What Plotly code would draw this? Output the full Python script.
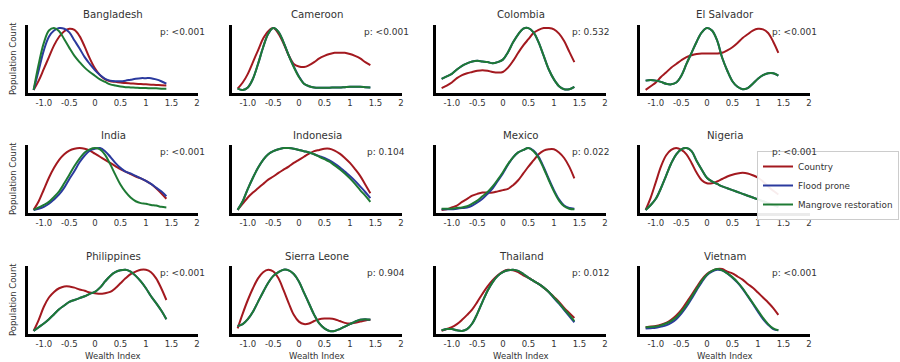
import plotly.graph_objects as go

W, H = 900, 362

X_GRID = [-1.2, -1.1, -1.0, -0.9, -0.8, -0.7, -0.6, -0.5, -0.4, -0.3, -0.2, -0.1, 0.0,
          0.1, 0.2, 0.3, 0.4, 0.5, 0.6, 0.7, 0.8, 0.9, 1.0, 1.1, 1.2, 1.3, 1.4]

COUNTRIES = ["Bangladesh", "Cameroon", "Colombia", "El Salvador",
             "India", "Indonesia", "Mexico", "Nigeria",
             "Philippines", "Sierra Leone", "Thailand", "Vietnam"]

P_VALUES = ["p: <0.001", "p: <0.001", "p: 0.532", "p: <0.001",
            "p: <0.001", "p: 0.104", "p: 0.022", "p: <0.001",
            "p: <0.001", "p: 0.904", "p: 0.012", "p: <0.001"]

SERIES_NAMES = ["Country", "Flood prone", "Mangrove restoration"]

TICK_VALS = [-1.0, -0.5, 0, 0.5, 1, 1.5, 2]
TICK_TEXT = ["-1.0", "-0.5", "0", "0.5", "1", "1.5", "2"]

# ---- density curves (normalised) ----
bangladesh_country = [0.0, 0.15, 0.34, 0.53, 0.72, 0.86, 0.95, 0.99, 0.97, 0.87, 0.70, 0.51, 0.35, 0.24, 0.17, 0.14, 0.13, 0.12, 0.11, 0.105, 0.10, 0.095, 0.09, 0.085, 0.08, 0.075, 0.07]
bangladesh_flood = [0.0, 0.32, 0.64, 0.86, 0.96, 1.0, 0.99, 0.93, 0.80, 0.67, 0.53, 0.42, 0.32, 0.24, 0.18, 0.15, 0.14, 0.14, 0.15, 0.165, 0.18, 0.19, 0.19, 0.19, 0.17, 0.14, 0.10]
bangladesh_mangrove = [0.0, 0.42, 0.76, 0.96, 1.0, 0.95, 0.82, 0.68, 0.55, 0.45, 0.36, 0.29, 0.23, 0.17, 0.13, 0.09, 0.07, 0.055, 0.045, 0.04, 0.035, 0.03, 0.03, 0.025, 0.025, 0.02, 0.02]

cameroon_country = [0.02, 0.12, 0.26, 0.45, 0.64, 0.83, 0.95, 1.0, 0.91, 0.75, 0.56, 0.42, 0.38, 0.37, 0.40, 0.45, 0.51, 0.55, 0.58, 0.60, 0.60, 0.60, 0.58, 0.55, 0.51, 0.45, 0.40]
cameroon_flood = [0.02, 0.0, 0.04, 0.18, 0.42, 0.69, 0.91, 1.0, 0.94, 0.77, 0.56, 0.38, 0.22, 0.10, 0.06, 0.04, 0.035, 0.035, 0.035, 0.04, 0.04, 0.045, 0.05, 0.05, 0.05, 0.045, 0.04]
cameroon_mangrove = [0.02, 0.0, 0.04, 0.18, 0.42, 0.69, 0.91, 1.0, 0.94, 0.77, 0.56, 0.37, 0.21, 0.10, 0.06, 0.04, 0.035, 0.035, 0.035, 0.04, 0.04, 0.045, 0.05, 0.05, 0.05, 0.045, 0.04]

colombia_country = [0.03, 0.07, 0.12, 0.19, 0.24, 0.27, 0.29, 0.31, 0.32, 0.31, 0.29, 0.28, 0.29, 0.36, 0.47, 0.60, 0.72, 0.82, 0.92, 0.97, 1.0, 1.0, 0.98, 0.91, 0.79, 0.62, 0.45]
colombia_flood = [0.18, 0.22, 0.26, 0.33, 0.39, 0.43, 0.46, 0.47, 0.46, 0.45, 0.43, 0.45, 0.49, 0.61, 0.77, 0.90, 0.99, 1.0, 0.93, 0.77, 0.55, 0.33, 0.17, 0.06, 0.01, 0.01, 0.05]
colombia_mangrove = [0.18, 0.22, 0.26, 0.33, 0.39, 0.43, 0.46, 0.47, 0.46, 0.45, 0.43, 0.45, 0.49, 0.61, 0.77, 0.90, 0.99, 1.0, 0.93, 0.77, 0.55, 0.33, 0.17, 0.06, 0.01, 0.01, 0.05]

elsalvador_country = [0.0, 0.06, 0.12, 0.21, 0.28, 0.36, 0.42, 0.48, 0.53, 0.56, 0.58, 0.59, 0.59, 0.59, 0.59, 0.60, 0.64, 0.69, 0.76, 0.84, 0.90, 0.96, 0.99, 0.98, 0.92, 0.78, 0.60]
elsalvador_flood = [0.15, 0.16, 0.15, 0.13, 0.10, 0.09, 0.12, 0.23, 0.42, 0.60, 0.78, 0.93, 1.0, 0.96, 0.80, 0.52, 0.31, 0.14, 0.05, 0.01, 0.03, 0.10, 0.18, 0.24, 0.27, 0.27, 0.23]
elsalvador_mangrove = [0.15, 0.16, 0.15, 0.13, 0.10, 0.09, 0.12, 0.23, 0.42, 0.60, 0.78, 0.93, 1.0, 0.96, 0.80, 0.52, 0.31, 0.14, 0.05, 0.01, 0.03, 0.10, 0.18, 0.24, 0.27, 0.27, 0.23]

india_country = [0.0, 0.14, 0.33, 0.52, 0.68, 0.81, 0.90, 0.96, 0.99, 1.0, 0.99, 0.96, 0.91, 0.86, 0.81, 0.76, 0.71, 0.66, 0.62, 0.58, 0.54, 0.51, 0.47, 0.42, 0.35, 0.27, 0.18]
india_flood = [0.0, 0.02, 0.05, 0.10, 0.17, 0.25, 0.36, 0.50, 0.63, 0.77, 0.88, 0.96, 0.99, 1.0, 0.95, 0.86, 0.76, 0.68, 0.62, 0.59, 0.55, 0.51, 0.47, 0.42, 0.36, 0.30, 0.22]
india_mangrove = [0.0, 0.04, 0.08, 0.13, 0.21, 0.30, 0.43, 0.57, 0.71, 0.83, 0.93, 0.98, 1.0, 0.98, 0.89, 0.74, 0.57, 0.41, 0.29, 0.20, 0.14, 0.11, 0.10, 0.08, 0.07, 0.05, 0.04]

indonesia_country = [0.0, 0.10, 0.20, 0.28, 0.35, 0.42, 0.49, 0.54, 0.60, 0.65, 0.70, 0.76, 0.81, 0.86, 0.91, 0.95, 0.97, 0.99, 0.99, 0.96, 0.91, 0.84, 0.76, 0.66, 0.55, 0.41, 0.27]
indonesia_flood = [0.0, 0.14, 0.34, 0.52, 0.68, 0.81, 0.90, 0.95, 0.98, 1.0, 1.0, 0.99, 0.97, 0.95, 0.93, 0.90, 0.87, 0.84, 0.80, 0.75, 0.69, 0.62, 0.55, 0.47, 0.38, 0.29, 0.19]
indonesia_mangrove = [0.0, 0.14, 0.34, 0.52, 0.68, 0.81, 0.90, 0.95, 0.98, 1.0, 1.0, 0.99, 0.97, 0.95, 0.93, 0.90, 0.86, 0.82, 0.78, 0.72, 0.66, 0.59, 0.51, 0.42, 0.32, 0.23, 0.13]

mexico_country = [0.0, 0.01, 0.04, 0.07, 0.13, 0.18, 0.23, 0.26, 0.28, 0.28, 0.28, 0.30, 0.32, 0.34, 0.40, 0.48, 0.59, 0.70, 0.80, 0.90, 0.96, 0.98, 0.98, 0.93, 0.84, 0.70, 0.51]
mexico_flood = [0.01, 0.01, 0.01, 0.02, 0.03, 0.04, 0.07, 0.12, 0.18, 0.26, 0.35, 0.47, 0.59, 0.73, 0.85, 0.93, 0.97, 1.0, 0.96, 0.86, 0.69, 0.50, 0.32, 0.17, 0.07, 0.03, 0.02]
mexico_mangrove = [0.02, 0.02, 0.02, 0.03, 0.04, 0.06, 0.10, 0.15, 0.22, 0.29, 0.38, 0.49, 0.61, 0.74, 0.85, 0.93, 0.97, 1.0, 0.95, 0.84, 0.67, 0.48, 0.30, 0.15, 0.06, 0.02, 0.01]

nigeria_country = [0.0, 0.20, 0.45, 0.70, 0.88, 0.97, 1.0, 0.97, 0.90, 0.76, 0.60, 0.48, 0.43, 0.43, 0.46, 0.50, 0.54, 0.57, 0.59, 0.60, 0.59, 0.56, 0.52, 0.46, 0.38, 0.31, 0.25]
nigeria_flood = [0.0, 0.08, 0.18, 0.35, 0.55, 0.75, 0.90, 0.98, 1.0, 0.95, 0.79, 0.65, 0.52, 0.46, 0.42, 0.38, 0.35, 0.32, 0.29, 0.26, 0.23, 0.20, 0.17, 0.14, 0.11, 0.08, 0.05]
nigeria_mangrove = [0.0, 0.08, 0.18, 0.35, 0.55, 0.75, 0.90, 0.98, 1.0, 0.95, 0.79, 0.65, 0.52, 0.46, 0.42, 0.38, 0.35, 0.32, 0.29, 0.26, 0.23, 0.20, 0.17, 0.14, 0.11, 0.08, 0.05]

philippines_country = [0.0, 0.18, 0.39, 0.54, 0.63, 0.69, 0.72, 0.72, 0.70, 0.67, 0.65, 0.62, 0.61, 0.60, 0.61, 0.63, 0.69, 0.77, 0.85, 0.92, 0.96, 0.99, 0.99, 0.95, 0.85, 0.69, 0.50]
philippines_flood = [0.0, 0.06, 0.12, 0.19, 0.27, 0.35, 0.41, 0.47, 0.50, 0.53, 0.56, 0.60, 0.63, 0.70, 0.80, 0.89, 0.95, 0.98, 0.99, 0.96, 0.89, 0.80, 0.69, 0.56, 0.45, 0.33, 0.19]
philippines_mangrove = [0.0, 0.06, 0.12, 0.19, 0.27, 0.35, 0.41, 0.47, 0.50, 0.53, 0.56, 0.60, 0.63, 0.70, 0.80, 0.89, 0.95, 0.98, 0.99, 0.96, 0.89, 0.80, 0.69, 0.56, 0.45, 0.33, 0.19]

sierraleone_country = [0.04, 0.28, 0.50, 0.69, 0.85, 0.95, 0.99, 0.96, 0.85, 0.66, 0.45, 0.26, 0.15, 0.11, 0.12, 0.16, 0.19, 0.20, 0.20, 0.19, 0.16, 0.13, 0.12, 0.13, 0.15, 0.17, 0.18]
sierraleone_flood = [0.08, 0.11, 0.19, 0.31, 0.47, 0.63, 0.78, 0.89, 0.95, 0.99, 0.98, 0.92, 0.80, 0.62, 0.44, 0.26, 0.12, 0.04, 0.0, 0.0, 0.03, 0.07, 0.11, 0.15, 0.18, 0.19, 0.18]
sierraleone_mangrove = [0.08, 0.11, 0.19, 0.31, 0.47, 0.63, 0.78, 0.89, 0.95, 0.99, 0.98, 0.92, 0.80, 0.62, 0.44, 0.26, 0.12, 0.04, 0.0, 0.0, 0.03, 0.07, 0.11, 0.15, 0.18, 0.19, 0.18]

thailand_country = [0.0, 0.03, 0.06, 0.11, 0.18, 0.26, 0.35, 0.47, 0.60, 0.72, 0.82, 0.90, 0.96, 0.99, 0.98, 0.95, 0.90, 0.86, 0.81, 0.76, 0.70, 0.63, 0.55, 0.47, 0.37, 0.29, 0.21]
thailand_flood = [0.01, 0.03, 0.03, 0.01, 0.0, 0.03, 0.12, 0.28, 0.47, 0.65, 0.79, 0.89, 0.95, 0.98, 0.99, 0.97, 0.92, 0.86, 0.81, 0.76, 0.70, 0.63, 0.53, 0.44, 0.34, 0.24, 0.14]
thailand_mangrove = [0.01, 0.03, 0.03, 0.01, 0.0, 0.03, 0.12, 0.28, 0.47, 0.65, 0.79, 0.89, 0.95, 0.98, 0.99, 0.97, 0.92, 0.86, 0.81, 0.76, 0.70, 0.63, 0.54, 0.45, 0.35, 0.26, 0.16]

vietnam_country = [0.06, 0.07, 0.08, 0.10, 0.13, 0.18, 0.25, 0.34, 0.46, 0.58, 0.71, 0.83, 0.92, 0.97, 1.0, 1.0, 0.96, 0.93, 0.88, 0.83, 0.76, 0.70, 0.62, 0.54, 0.46, 0.37, 0.26]
vietnam_flood = [0.04, 0.045, 0.05, 0.07, 0.09, 0.13, 0.19, 0.28, 0.39, 0.52, 0.66, 0.79, 0.90, 0.96, 0.99, 0.98, 0.93, 0.86, 0.78, 0.68, 0.56, 0.44, 0.31, 0.19, 0.10, 0.03, 0.01]
vietnam_mangrove = [0.06, 0.065, 0.07, 0.09, 0.12, 0.16, 0.22, 0.31, 0.42, 0.55, 0.68, 0.81, 0.91, 0.97, 1.0, 0.98, 0.93, 0.87, 0.79, 0.69, 0.57, 0.45, 0.33, 0.21, 0.11, 0.04, 0.01]

CURVES = [
    (bangladesh_country, bangladesh_flood, bangladesh_mangrove),
    (cameroon_country, cameroon_flood, cameroon_mangrove),
    (colombia_country, colombia_flood, colombia_mangrove),
    (elsalvador_country, elsalvador_flood, elsalvador_mangrove),
    (india_country, india_flood, india_mangrove),
    (indonesia_country, indonesia_flood, indonesia_mangrove),
    (mexico_country, mexico_flood, mexico_mangrove),
    (nigeria_country, nigeria_flood, nigeria_mangrove),
    (philippines_country, philippines_flood, philippines_mangrove),
    (sierraleone_country, sierraleone_flood, sierraleone_mangrove),
    (thailand_country, thailand_flood, thailand_mangrove),
    (vietnam_country, vietnam_flood, vietnam_mangrove),
]

COLORS = ["#a3191f", "#2b3a9e", "#1e7a34"]
FONT = "DejaVu Sans"
TEXT = "#333333"

# layout in pixels
COL_LEFT = [28, 232, 436, 640]
PANEL_W = 170
ROW_TOP = [25, 145, 266]
PANEL_H = 68
X_RANGE = [-1.31, 2.02]
Y_RANGE = [-0.05, 1.05]


def px_x(p):
    return p / W


def px_y(p):
    return 1 - p / H


fig = go.Figure()
annotations = []
layout_axes = {}

for i, name in enumerate(COUNTRIES):
    r, c = divmod(i, 4)
    n = i + 1
    xa = "x" if n == 1 else f"x{n}"
    ya = "y" if n == 1 else f"y{n}"
    for s in range(3):
        fig.add_trace(go.Scatter(
            x=X_GRID, y=CURVES[i][s], mode="lines", xaxis=xa, yaxis=ya,
            line=dict(color=COLORS[s], width=2, shape="spline", smoothing=1.0),
            name=SERIES_NAMES[s], showlegend=(i == 0), hoverinfo="skip"))

    x0 = COL_LEFT[c]
    y0 = ROW_TOP[r]
    layout_axes["xaxis" if n == 1 else f"xaxis{n}"] = dict(
        domain=[px_x(x0), px_x(x0 + PANEL_W)], range=X_RANGE, anchor=ya,
        showgrid=False, zeroline=False, showline=True, linecolor="black",
        linewidth=2.5, ticks="", tickvals=TICK_VALS, ticktext=TICK_TEXT,
        tickfont=dict(family=FONT, size=8.5, color=TEXT))
    layout_axes["yaxis" if n == 1 else f"yaxis{n}"] = dict(
        domain=[px_y(y0 + PANEL_H), px_y(y0)], range=Y_RANGE, anchor=xa,
        showgrid=False, zeroline=False, showline=True, linecolor="black",
        linewidth=2.5, ticks="", showticklabels=False)

    # title
    annotations.append(dict(
        text=name, x=px_x(x0 + PANEL_W / 2), y=px_y(y0 - 10), xref="paper",
        yref="paper", xanchor="center", yanchor="middle", showarrow=False,
        font=dict(family=FONT, size=10.2, color=TEXT)))
    # p-value
    annotations.append(dict(
        text=P_VALUES[i], x=1.71, y=0.94, xref=xa, yref=ya, xanchor="center",
        yanchor="middle", showarrow=False,
        font=dict(family=FONT, size=9, color=TEXT)))
    if c == 0:
        annotations.append(dict(
            text="Population Count", x=px_x(13), y=px_y(y0 + PANEL_H / 2),
            xref="paper", yref="paper", xanchor="center", yanchor="middle",
            textangle=-90, showarrow=False,
            font=dict(family=FONT, size=8.5, color=TEXT)))
    if r == 2:
        annotations.append(dict(
            text="Wealth Index", x=px_x(x0 + PANEL_W / 2), y=px_y(356),
            xref="paper", yref="paper", xanchor="center", yanchor="middle",
            showarrow=False, font=dict(family=FONT, size=8.5, color=TEXT)))

fig.update_layout(
    width=W, height=H, margin=dict(l=0, r=0, t=0, b=0, autoexpand=False),
    paper_bgcolor="white", plot_bgcolor="white",
    font=dict(family=FONT, color=TEXT),
    annotations=annotations,
    legend=dict(x=px_x(757), y=px_y(151), xanchor="left", yanchor="top",
                bgcolor="rgba(255,255,255,0.92)", bordercolor="#cccccc",
                borderwidth=1, font=dict(family=FONT, size=8.8, color=TEXT),
                tracegroupgap=0),
    **layout_axes,
)

fig.write_html(
    "out.html",
    config={"displayModeBar": False},
    post_script="document.body.style.margin='0px';document.body.style.padding='0px';",
)
